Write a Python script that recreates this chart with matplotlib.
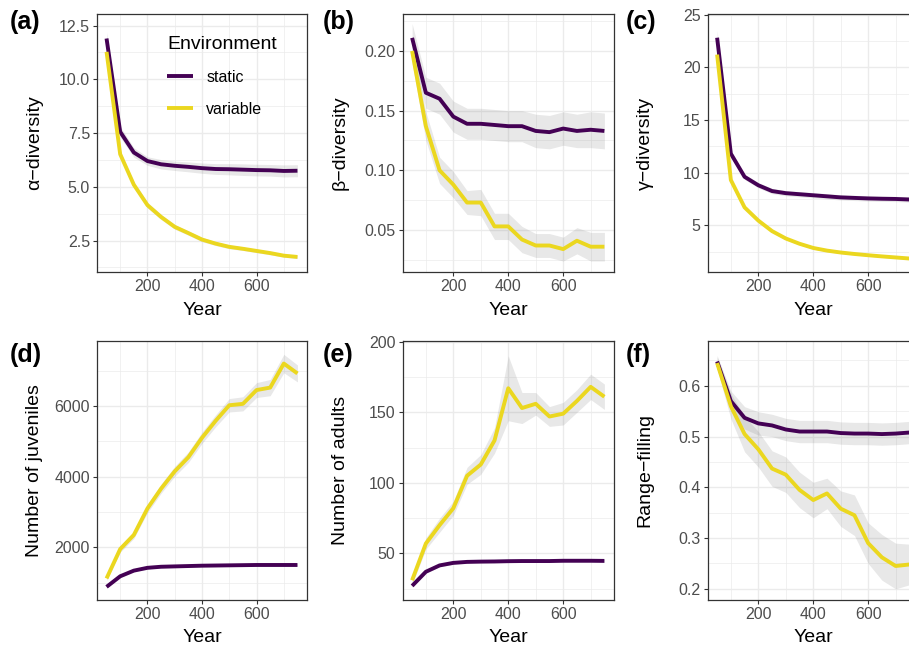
import numpy as np
import matplotlib
matplotlib.use("Agg")
import matplotlib.pyplot as plt
from matplotlib.ticker import MultipleLocator

plt.rcParams['font.family'] = ['Liberation Sans', 'DejaVu Sans']

# years sampled
year = [50, 100, 150, 200, 250, 300, 350, 400, 450, 500, 550, 600, 650, 700, 750]

# (a) alpha diversity
alpha_static = [11.9, 7.56, 6.6, 6.2, 6.05, 5.98, 5.93, 5.87, 5.83, 5.82, 5.8, 5.78, 5.77, 5.74, 5.75]
alpha_static_se = [0.3, 0.25, 0.22, 0.2, 0.22, 0.22, 0.23, 0.24, 0.25, 0.26, 0.27, 0.27, 0.27, 0.28, 0.28]
alpha_var = [11.28, 6.52, 5.1, 4.15, 3.6, 3.14, 2.85, 2.55, 2.36, 2.21, 2.12, 2.02, 1.92, 1.8, 1.74]
alpha_var_se = [0.25, 0.15, 0.13, 0.13, 0.12, 0.11, 0.1, 0.1, 0.09, 0.09, 0.08, 0.08, 0.08, 0.07, 0.07]

# (b) beta diversity
beta_static = [0.211, 0.165, 0.16, 0.145, 0.139, 0.139, 0.138, 0.137, 0.137, 0.133, 0.132, 0.135, 0.133, 0.134, 0.133]
beta_static_se = [0.012, 0.013, 0.013, 0.013, 0.013, 0.013, 0.013, 0.013, 0.013, 0.014, 0.014, 0.014, 0.014, 0.015, 0.015]
beta_var = [0.2, 0.137, 0.1, 0.088, 0.073, 0.073, 0.053, 0.053, 0.042, 0.037, 0.037, 0.034, 0.041, 0.036, 0.036]
beta_var_se = [0.01, 0.012, 0.011, 0.011, 0.01, 0.011, 0.011, 0.011, 0.011, 0.01, 0.01, 0.01, 0.011, 0.012, 0.012]

# (c) gamma diversity
gamma_static = [22.8, 11.8, 9.6, 8.8, 8.25, 8.05, 7.95, 7.85, 7.75, 7.65, 7.6, 7.55, 7.52, 7.5, 7.45]
gamma_static_se = [0.7, 0.3, 0.25, 0.25, 0.25, 0.25, 0.25, 0.25, 0.25, 0.25, 0.25, 0.25, 0.25, 0.25, 0.25]
gamma_var = [21.2, 9.3, 6.7, 5.45, 4.45, 3.75, 3.25, 2.85, 2.6, 2.42, 2.28, 2.16, 2.05, 1.95, 1.85]
gamma_var_se = [0.5, 0.2, 0.15, 0.15, 0.13, 0.12, 0.11, 0.1, 0.1, 0.1, 0.09, 0.09, 0.09, 0.09, 0.09]

# (d) juveniles
juv_static = [880, 1180, 1340, 1420, 1450, 1460, 1470, 1480, 1485, 1490, 1495, 1500, 1500, 1500, 1500]
juv_static_se = [30, 30, 30, 30, 30, 30, 30, 30, 30, 30, 30, 30, 30, 30, 30]
juv_var = [1120, 1950, 2350, 3100, 3660, 4150, 4550, 5100, 5580, 6020, 6060, 6450, 6520, 7200, 6920]
juv_var_se = [60, 90, 100, 120, 130, 140, 150, 160, 170, 190, 200, 210, 230, 260, 240]

# (e) adults
adult_static = [27, 37, 41.5, 43.3, 44, 44.2, 44.3, 44.5, 44.6, 44.6, 44.6, 44.8, 44.8, 44.8, 44.7]
adult_static_se = [1, 1, 1, 1, 1, 1, 1, 1, 1, 1, 1, 1, 1, 1, 1]
adult_var = [31, 57, 70, 82, 105, 113, 130, 167, 153, 156, 147, 149, 158, 168, 161]
adult_var_se = [3, 4, 5, 5, 6, 7, 9, 23, 11, 8, 7, 8, 8, 9, 9]

# (f) range filling
range_static = [0.648, 0.57, 0.537, 0.526, 0.522, 0.514, 0.51, 0.51, 0.51, 0.507, 0.506, 0.506, 0.505, 0.506, 0.508]
range_static_se = [0.012, 0.02, 0.022, 0.023, 0.022, 0.022, 0.022, 0.022, 0.022, 0.022, 0.022, 0.022, 0.022, 0.022, 0.022]
range_var = [0.645, 0.56, 0.505, 0.475, 0.437, 0.425, 0.395, 0.375, 0.388, 0.358, 0.345, 0.29, 0.262, 0.245, 0.248]
range_var_se = [0.012, 0.025, 0.035, 0.035, 0.035, 0.035, 0.035, 0.035, 0.03, 0.035, 0.04, 0.04, 0.045, 0.045, 0.04]

col_static = "#440154"
col_var = "#EBD71F"

panels = [
    ("(a)", "\u03b1\u2212diversity", alpha_static, alpha_static_se, alpha_var, alpha_var_se, (1.04, 13.04), 2.5),
    ("(b)", "\u03b2\u2212diversity", beta_static, beta_static_se, beta_var, beta_var_se, (0.0148, 0.231), 0.05),
    ("(c)", "\u03b3\u2212diversity", gamma_static, gamma_static_se, gamma_var, gamma_var_se, (0.57, 25.05), 5),
    ("(d)", "Number of juveniles", juv_static, juv_static_se, juv_var, juv_var_se, (509, 7847), 2000),
    ("(e)", "Number of adults", adult_static, adult_static_se, adult_var, adult_var_se, (17, 200.7), 50),
    ("(f)", "Range\u2212filling", range_static, range_static_se, range_var, range_var_se, (0.178, 0.689), 0.1),
]

# axes boxes in pixels (left, top, right, bottom)
W, H = 909, 647
boxes = [
    (97, 14, 307, 272), (402.5, 14, 614, 272), (707.5, 14, 919, 272),
    (97, 340.7, 307, 600), (402.5, 340.7, 614, 600), (707.5, 340.7, 919, 600),
]
tag_x = [10, 323, 626, 10, 323, 626]
tag_y = [22, 22, 22, 355, 355, 355]
xlab_pad = [6, 6, 6, 5, 5, 5]

fig = plt.figure(figsize=(W / 100, H / 100), dpi=100)
yr = np.array(year)

for i, (tag, ylab, s, s_se, v, v_se, ylim, step) in enumerate(panels):
    l, t, r, b = boxes[i]
    ax = fig.add_axes([l / W, 1 - b / H, (r - l) / W, (b - t) / H])
    s = np.array(s); v = np.array(v)
    ax.fill_between(yr, s - np.array(s_se), s + np.array(s_se), color="grey", alpha=0.18, lw=0, zorder=2)
    ax.fill_between(yr, v - np.array(v_se), v + np.array(v_se), color="grey", alpha=0.18, lw=0, zorder=2)
    ax.plot(yr, s, color=col_static, lw=2.8, label="static", zorder=3, solid_capstyle="butt")
    ax.plot(yr, v, color=col_var, lw=2.8, label="variable", zorder=3, solid_capstyle="butt")

    ax.set_xlim(15, 785)
    ax.set_ylim(*ylim)
    ax.xaxis.set_major_locator(MultipleLocator(200))
    ax.xaxis.set_minor_locator(MultipleLocator(100))
    ax.yaxis.set_major_locator(MultipleLocator(step))
    ax.yaxis.set_minor_locator(MultipleLocator(step / 2))
    ax.grid(which="major", color="#EBEBEB", lw=1.0, zorder=0)
    ax.grid(which="minor", color="#EBEBEB", lw=0.5, zorder=0)
    ax.set_axisbelow(True)
    ax.tick_params(which="major", length=3, width=0.8, color="#333333",
                   labelsize=11.5, labelcolor="#4D4D4D", pad=2)
    ax.tick_params(which="minor", length=0)
    for sp in ax.spines.values():
        sp.set_color("#333333")
        sp.set_linewidth(0.9)
    if step == 2.5:
        ax.yaxis.set_major_formatter(plt.FormatStrFormatter("%.1f"))
    elif step == 0.05:
        ax.yaxis.set_major_formatter(plt.FormatStrFormatter("%.2f"))
    elif step == 0.1:
        ax.yaxis.set_major_formatter(plt.FormatStrFormatter("%.1f"))
    ax.set_xlabel("Year", fontsize=14, labelpad=xlab_pad[i])
    ax.set_ylabel(ylab, fontsize=14)
    ax.yaxis.set_label_coords(-0.255, 0.5)
    fig.text(tag_x[i] / W, 1 - tag_y[i] / H, tag, fontsize=18, fontweight="bold", va="center", ha="left")

    if i == 0:
        leg = ax.legend(title="Environment", loc="upper left", bbox_to_anchor=(0.265, 0.97),
                        frameon=False, fontsize=11.5, title_fontsize=14,
                        handlelength=1.6, labelspacing=1.05, handletextpad=0.85,
                        alignment="left")

fig.savefig("out.png", dpi=100)
